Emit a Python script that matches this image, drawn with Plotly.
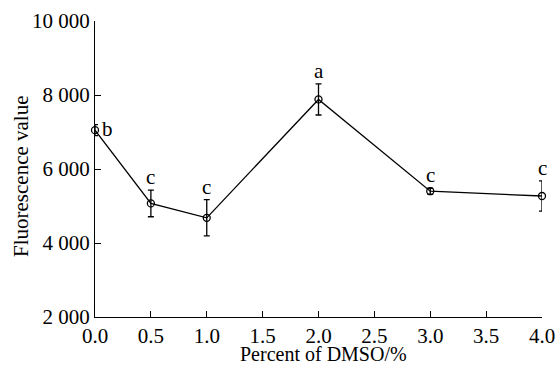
import plotly.graph_objects as go

dmso = [0.0, 0.5, 1.0, 2.0, 3.0, 4.0]
fluor = [7050, 5070, 4680, 7880, 5400, 5270]
err = [150, 360, 490, 420, 80, 410]
letters = ["b", "c", "c", "a", "c", "c"]

x_ticks = [0.0, 0.5, 1.0, 1.5, 2.0, 2.5, 3.0, 3.5, 4.0]
y_ticks = [2000, 4000, 6000, 8000, 10000]

x_title = "Percent of DMSO/%"
y_title = "Fluorescence value"

FONT = "Liberation Serif"
FS = 21

fig = go.Figure()
fig.add_trace(go.Scatter(
    x=dmso, y=fluor, mode="lines+markers",
    line=dict(color="black", width=1.3),
    marker=dict(symbol="circle-open", size=7, color="black", line=dict(width=1.3)),
    error_y=dict(type="data", array=err, visible=True, color="black", thickness=1.3, width=3),
    cliponaxis=False, showlegend=False,
))

for xv, yv, ev, lab in zip(dmso, fluor, err, letters):
    if lab == "b":
        fig.add_annotation(x=xv, y=yv, text=lab, showarrow=False, xanchor="left",
                           yanchor="middle", xshift=5, yshift=1,
                           font=dict(family=FONT, size=FS, color="black"))
    else:
        fig.add_annotation(x=xv, y=yv + ev, text=lab, showarrow=False, xanchor="center",
                           yanchor="bottom", yshift=-1,
                           font=dict(family=FONT, size=FS, color="black"))

# axis titles placed as paper annotations for exact positioning
fig.add_annotation(xref="paper", yref="paper", x=0.5, y=0, text=x_title,
                   showarrow=False, xanchor="center", yanchor="middle",
                   xshift=5, yshift=-37, borderpad=0,
                   font=dict(family=FONT, size=20, color="black"))
fig.add_annotation(xref="paper", yref="paper", x=0, y=0.5, text=y_title,
                   showarrow=False, xanchor="center", yanchor="middle",
                   textangle=-90, xshift=-74, yshift=-7,
                   font=dict(family=FONT, size=FS, color="black"))

axis_common = dict(
    showline=True, linecolor="black", linewidth=1.3, ticks="inside", ticklen=6,
    tickwidth=1.3, tickcolor="black", showgrid=False, zeroline=False,
    automargin=False, ticklabeloverflow="allow",
    tickfont=dict(family=FONT, size=FS, color="black"),
)

fig.update_layout(
    width=555, height=365,
    margin=dict(l=95, r=13, t=21, b=48),
    paper_bgcolor="white", plot_bgcolor="white",
    separators=". ",
    font=dict(family=FONT, size=FS, color="black"),
    xaxis=dict(range=[0, 4], tickvals=x_ticks, tickformat=".1f", **axis_common),
    yaxis=dict(range=[2000, 10000], tickvals=y_ticks, tickformat=",d", **axis_common),
)

fig.write_html("out.html")
